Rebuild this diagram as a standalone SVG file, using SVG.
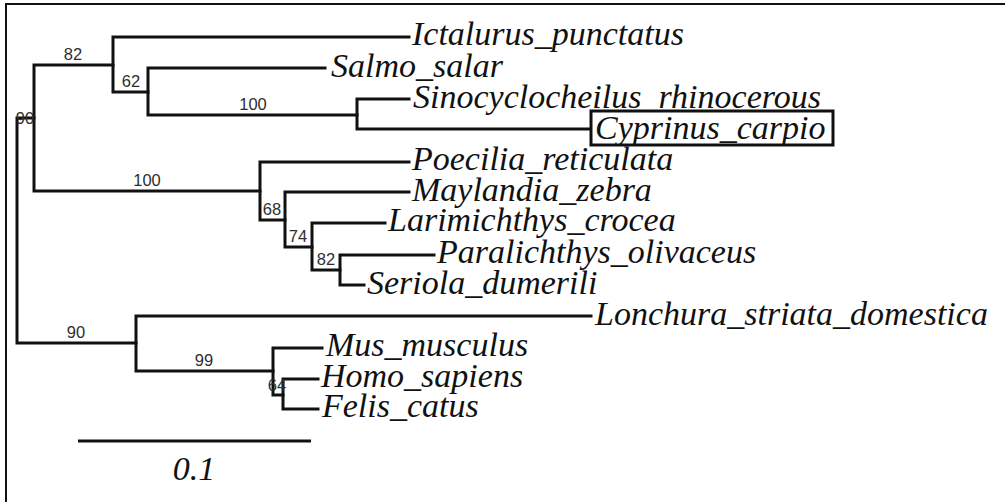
<svg xmlns="http://www.w3.org/2000/svg" width="1005" height="502" viewBox="0 0 1005 502">
<style>
.br{stroke:#111;stroke-width:3;fill:none;stroke-linecap:square;stroke-linejoin:miter}
.tip{font-family:"Liberation Serif","Times New Roman",serif;font-style:italic;font-size:34px;fill:#111}
.bs{font-family:"Liberation Sans",Arial,sans-serif;font-size:16.5px;fill:#2e2e2e;text-anchor:middle}
</style>
<rect width="1005" height="502" fill="#fff"/>
<path d="M6,502 V4 H1005" stroke="#111" stroke-width="2" fill="none"/>
<g id="connectors">
<path class="br" d="M17,118 V343 M17,118 H34 M17,343 H136"/>
<path class="br" d="M34,65 V191 M34,65 H113 M34,191 H260"/>
<path class="br" d="M113,37 V92 M113,37 H409 M113,92 H148"/>
<path class="br" d="M148,68 V115 M148,68 H325 M148,115 H357"/>
<path class="br" d="M357,99 V129 M357,99 H409 M357,129 H589"/>
<path class="br" d="M260,162 V220 M260,162 H409 M260,220 H285"/>
<path class="br" d="M285,192 V247 M285,192 H409 M285,247 H312"/>
<path class="br" d="M312,223 V270 M312,223 H385 M312,270 H340"/>
<path class="br" d="M340,255 V285 M340,255 H434 M340,285 H364"/>
<path class="br" d="M136,316 V371 M136,316 H591 M136,371 H273"/>
<path class="br" d="M273,348 V395 M273,348 H322 M273,395 H283"/>
<path class="br" d="M283,379 V409 M283,379 H318 M283,409 H318"/>
</g>
<g id="bootstrap">
<text class="bs" x="25" y="124">90</text>
<text class="bs" x="73" y="60">82</text>
<text class="bs" x="131" y="87">62</text>
<text class="bs" x="253" y="110">100</text>
<text class="bs" x="147" y="186">100</text>
<text class="bs" x="272" y="215">68</text>
<text class="bs" x="298" y="242">74</text>
<text class="bs" x="326" y="265">82</text>
<text class="bs" x="76" y="338">90</text>
<text class="bs" x="204" y="366">99</text>
<text class="bs" x="277" y="391">64</text>
</g>
<g id="tip-ictalurus"><text class="tip" x="412" y="45">Ictalurus_punctatus</text></g>
<g id="tip-salmo"><text class="tip" x="331" y="77">Salmo_salar</text></g>
<g id="tip-sinocyclocheilus"><text class="tip" x="413" y="108">Sinocyclocheilus_rhinocerous</text></g>
<g id="tip-cyprinus">
<rect x="591" y="111" width="242" height="34" fill="none" stroke="#111" stroke-width="3"/>
<text class="tip" x="595" y="139">Cyprinus_carpio</text>
</g>
<g id="tip-poecilia"><text class="tip" x="412" y="170">Poecilia_reticulata</text></g>
<g id="tip-maylandia"><text class="tip" x="412" y="201">Maylandia_zebra</text></g>
<g id="tip-larimichthys"><text class="tip" x="388" y="231">Larimichthys_crocea</text></g>
<g id="tip-paralichthys"><text class="tip" x="437" y="263">Paralichthys_olivaceus</text></g>
<g id="tip-seriola"><text class="tip" x="367" y="294">Seriola_dumerili</text></g>
<g id="tip-lonchura"><text class="tip" x="595" y="325">Lonchura_striata_domestica</text></g>
<g id="tip-mus"><text class="tip" x="326" y="356">Mus_musculus</text></g>
<g id="tip-homo"><text class="tip" x="321" y="387">Homo_sapiens</text></g>
<g id="tip-felis"><text class="tip" x="322" y="417">Felis_catus</text></g>
<g id="scale-bar">
<line x1="78" y1="441" x2="311" y2="441" stroke="#111" stroke-width="3"/>
<text class="tip" x="194" y="480" text-anchor="middle">0.1</text>
</g>
</svg>
